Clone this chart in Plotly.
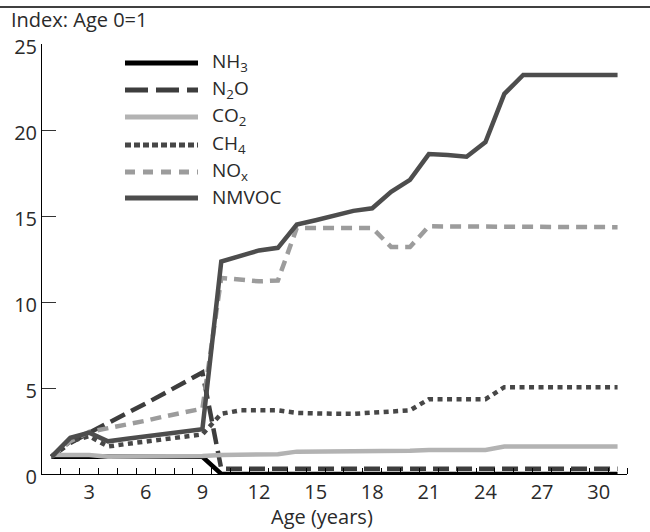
import plotly.graph_objects as go

ages = list(range(1, 32))
NH3 = [1.0, 1.0, 1.0, 1.0, 1.0, 1.0, 1.0, 1.0, 1.0,
       0.0, 0.0, 0.0, 0.0, 0.0, 0.0, 0.0, 0.0, 0.0, 0.0, 0.0, 0.0,
       0.0, 0.0, 0.0, 0.0, 0.0, 0.0, 0.0, 0.0, 0.0, 0.0]
N2O = [1.0, 1.8, 2.4, 2.95, 3.5, 4.1, 4.7, 5.3, 5.9,
       0.3, 0.3, 0.3, 0.3, 0.3, 0.3, 0.3, 0.3, 0.3, 0.3, 0.3, 0.3,
       0.3, 0.3, 0.3, 0.3, 0.3, 0.3, 0.3, 0.3, 0.3, 0.3]
CO2 = [1.1, 1.1, 1.1, 1.0, 1.0, 1.0, 1.0, 1.0, 1.05,
       1.1, 1.1, 1.15, 1.15, 1.3, 1.3, 1.3, 1.3, 1.3, 1.3, 1.35, 1.4,
       1.4, 1.4, 1.4, 1.6, 1.6, 1.6, 1.6, 1.6, 1.6, 1.6]
CH4 = [1.0, 1.9, 2.2, 1.6, 1.75, 1.9, 2.0, 2.15, 2.3,
       3.5, 3.7, 3.7, 3.7, 3.55, 3.5, 3.5, 3.5, 3.55, 3.6, 3.7, 4.35,
       4.35, 4.35, 4.35, 5.05, 5.05, 5.05, 5.05, 5.05, 5.05, 5.05]
NOx = [1.0, 1.9, 2.45, 2.65, 2.9, 3.1, 3.35, 3.55, 3.8,
       11.4, 11.3, 11.2, 11.25, 14.3, 14.3, 14.3, 14.3, 14.3, 13.2, 13.2, 14.4,
       14.4, 14.4, 14.4, 14.35, 14.35, 14.35, 14.35, 14.35, 14.35, 14.35]
NMVOC = [1.0, 2.1, 2.4, 1.9, 2.05, 2.2, 2.35, 2.5, 2.6,
         12.35, 12.7, 13.0, 13.15, 14.5, 14.75, 15.0, 15.3, 15.45, 16.4, 17.1, 18.6,
         18.55, 18.45, 19.3, 22.1, 23.2, 23.2, 23.2, 23.2, 23.2, 23.2]

series_names = ["NH<sub>3</sub>", "N<sub>2</sub>O", "CO<sub>2</sub>",
                "CH<sub>4</sub>", "NO<sub>x</sub>", "NMVOC"]
series_values = [NH3, N2O, CO2, CH4, NOx, NMVOC]
colors = ["#000000", "#3d3d3d", "#b3b3b3", "#474747", "#9c9c9c", "#4d4d4d"]
dashes = ["solid", "16px,7px", "solid", "5px,4.5px", "11px,7px", "solid"]
legend_dashes = ["solid", "23px,8px", "solid", "6px,3px", "10px,8px", "solid"]
x_ticks = [3, 6, 9, 12, 15, 18, 21, 24, 27, 30]
y_ticks = [0, 5, 10, 15, 20, 25]

FONT = "Open Sans"
FS = 20
LFS = 19
TXT = "#2a2a2a"
fig = go.Figure()
for name, vals, c, d in zip(series_names, series_values, colors, dashes):
    fig.add_trace(go.Scatter(x=ages, y=vals, mode="lines", name=name,
                             line=dict(color=c, width=4.5, dash=d),
                             showlegend=False))

W, H = 650, 532
L, R, T, B = 42, 23, 44, 58
pw, ph = W - L - R, H - T - B


def px2paper_x(px):
    return (px - L) / pw


def px2paper_y(py):
    return (H - B - py) / ph


shapes = []
annotations = []
rows = [63, 90, 117, 145, 172, 198]
for name, c, d, ry in zip(series_names, colors, legend_dashes, rows):
    shapes.append(dict(type="line", xref="paper", yref="paper",
                       x0=px2paper_x(125), x1=px2paper_x(198),
                       y0=px2paper_y(ry), y1=px2paper_y(ry),
                       line=dict(color=c, width=5, dash=d)))
    annotations.append(dict(xref="paper", yref="paper", x=px2paper_x(210),
                            y=px2paper_y(ry - 1), xanchor="left", yanchor="middle",
                            text=name, showarrow=False,
                            font=dict(family=FONT, size=LFS, color=TXT)))

# top rule
shapes.append(dict(type="line", xref="paper", yref="paper",
                   x0=px2paper_x(0), x1=px2paper_x(650),
                   y0=px2paper_y(7), y1=px2paper_y(7),
                   line=dict(color="#000", width=1.5)))

annotations.append(dict(xref="paper", yref="paper", x=px2paper_x(9), y=px2paper_y(20),
                        xanchor="left", yanchor="middle", text="Index: Age 0=1",
                        showarrow=False, font=dict(family=FONT, size=FS, color=TXT)))
annotations.append(dict(xref="paper", yref="paper", x=px2paper_x(322), y=px2paper_y(516),
                        xanchor="center", yanchor="middle", text="Age (years)",
                        showarrow=False, font=dict(family=FONT, size=FS, color=TXT)))

fig.update_layout(
    width=W, height=H,
    margin=dict(l=L, r=R, t=T, b=B, pad=0),
    plot_bgcolor="white", paper_bgcolor="white",
    font=dict(family=FONT, size=FS, color=TXT),
    shapes=shapes, annotations=annotations,
    xaxis=dict(range=[0.5, 31.5], showgrid=False, zeroline=False,
               showline=True, linecolor="#000", linewidth=1,
               tickmode="array", tickvals=x_ticks, ticks="",
               tickfont=dict(family=FONT, size=FS, color=TXT),
               minor=dict(tickmode="array",
                          tickvals=[i + 0.5 for i in range(1, 32)],
                          ticks="inside", ticklen=6, tickcolor="#000", tickwidth=1)),
    yaxis=dict(range=[0, 25], showgrid=False, zeroline=False,
               showline=True, linecolor="#000", linewidth=1,
               tickmode="array", tickvals=y_ticks, ticks="inside",
               ticklen=14, tickcolor="#333", tickwidth=1, ticklabelshift=3,
               tickfont=dict(family=FONT, size=FS, color=TXT)),
)

fig.write_html("out.html")
